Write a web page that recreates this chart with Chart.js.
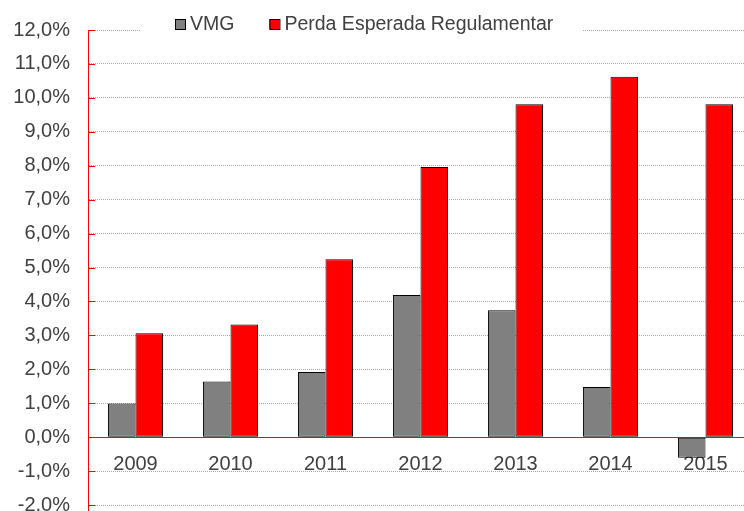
<!DOCTYPE html>
<html>
<head>
<meta charset="utf-8">
<script src="https://cdn.jsdelivr.net/npm/chart.js@4/dist/chart.umd.min.js"></script>
<style>
    html, body { margin: 0; padding: 0; background: #fff; overflow: hidden; }
    #wrap { width: 753px; height: 511px; overflow: hidden; }
</style>
</head>
<body>
<div id="wrap"><canvas id="chart" width="753" height="535"></canvas></div>
<script>
// Data
const years = ['2009', '2010', '2011', '2012', '2013', '2014', '2015'];
const vmg = [0.99, 1.64, 1.92, 4.19, 3.74, 1.48, -0.61];
const perdaEsperada = [3.06, 3.32, 5.24, 7.96, 9.81, 10.62, 9.81];
const yTicks = [-2, -1, 0, 1, 2, 3, 4, 5, 6, 7, 8, 9, 10, 11, 12];

const textColor = '#404040';
const fontFamily = '"Liberation Sans", Arial, sans-serif';

// Red tick marks inside the plot, and the legend over the top gridline
const decorations = {
    id: 'decorations',
    afterDraw(chart) {
        const ctx = chart.ctx;
        const yScale = chart.scales.y;
        const left = chart.chartArea.left;
        ctx.save();
        ctx.strokeStyle = '#ff0000';
        ctx.lineWidth = 1;
        yTicks.forEach(v => {
            const y = Math.round(yScale.getPixelForValue(v)) + 0.5;
            ctx.beginPath();
            ctx.moveTo(left, y);
            ctx.lineTo(left + 7, y);
            ctx.stroke();
        });
        // axis line runs down to the bottom edge
        ctx.beginPath();
        ctx.moveTo(Math.round(left) + 0.5, chart.chartArea.bottom);
        ctx.lineTo(Math.round(left) + 0.5, chart.height);
        ctx.stroke();

        ctx.fillStyle = '#fff';
        ctx.fillRect(140, 8, 442, 26);
        ctx.font = '19.5px ' + fontFamily;
        let x = 175;
        chart.data.datasets.forEach(ds => {
            ctx.fillStyle = ds.backgroundColor;
            ctx.fillRect(x, 19, 10, 10);
            ctx.strokeStyle = '#000';
            ctx.strokeRect(x + 0.5, 19.5, 10, 10);
            ctx.fillStyle = textColor;
            ctx.fillText(ds.label, x + 15, 30);
            x += 15 + ctx.measureText(ds.label).width + 35;
        });
        ctx.restore();
    }
};

const ctx = document.getElementById('chart').getContext('2d');

new Chart(ctx, {
    type: 'bar',
    data: {
        labels: years,
        datasets: [{
            label: 'VMG',
            data: vmg,
            backgroundColor: '#808080',
            borderColor: '#000',
            borderWidth: 1,
            borderSkipped: false
        }, {
            label: 'Perda Esperada Regulamentar',
            data: perdaEsperada,
            backgroundColor: '#ff0000',
            borderColor: '#000',
            borderWidth: 1,
            borderSkipped: false
        }]
    },
    options: {
        responsive: false,
        animation: false,
        categoryPercentage: 0.58,
        barPercentage: 1,
        layout: { padding: { top: 29, bottom: 6, left: 0, right: 0 } },
        plugins: {
            legend: { display: false },
            tooltip: { enabled: false }
        },
        scales: {
            x: {
                position: { y: 0 },
                afterFit: scale => { scale.height = 0; },
                grid: { display: false, drawTicks: false },
                border: { color: '#ff0000', width: 1 },
                ticks: {
                    color: textColor,
                    font: { size: 20, family: fontFamily },
                    padding: 15
                }
            },
            y: {
                min: -2,
                max: 12,
                afterBuildTicks: scale => {
                    scale.ticks = yTicks.map(v => ({ value: v }));
                },
                afterFit: scale => { scale.width = 88; },
                grid: {
                    color: '#a6a6a6',
                    drawTicks: false,
                    lineWidth: 1
                },
                border: { color: '#ff0000', width: 1, dash: [1, 1] },
                ticks: {
                    color: textColor,
                    font: { size: 20, family: fontFamily },
                    padding: 18,
                    callback: v => v.toFixed(1).replace('.', ',') + '%'
                }
            }
        }
    },
    plugins: [decorations]
});
</script>
</body>
</html>
